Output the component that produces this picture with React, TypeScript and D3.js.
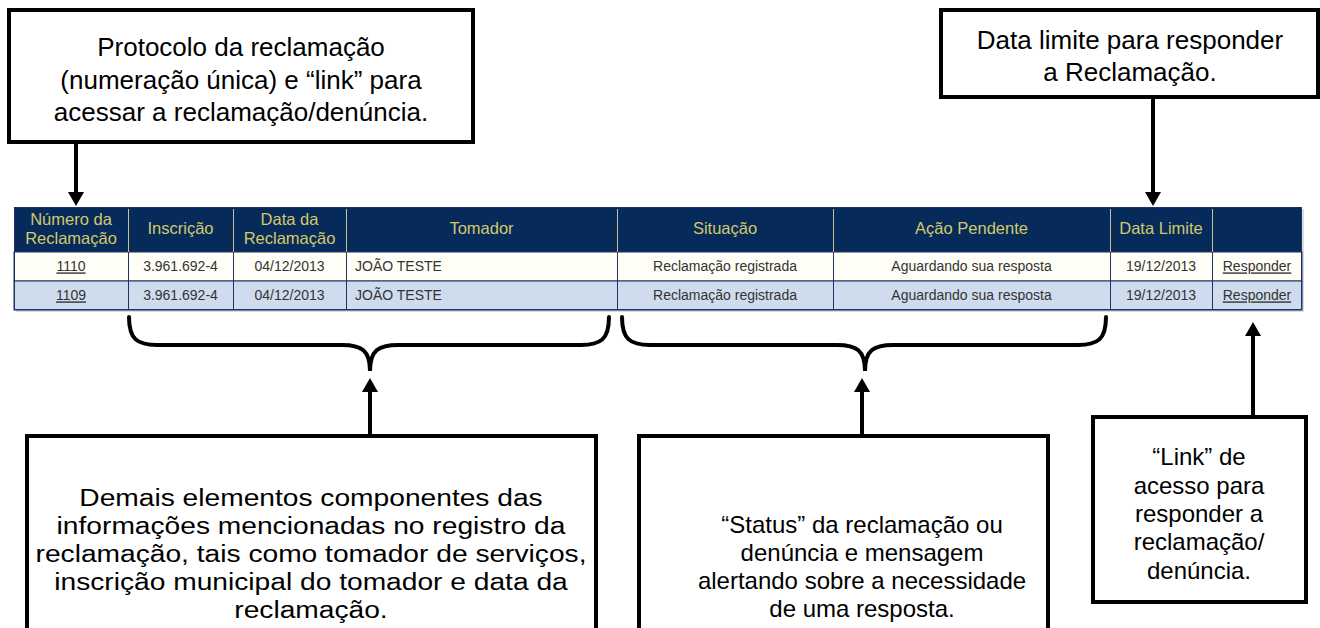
import { useMemo } from "react";
import * as d3 from "d3";

// table content
const headers = [["Número da", "Reclamação"], ["Inscrição"], ["Data da", "Reclamação"], ["Tomador"], ["Situação"], ["Ação Pendente"], ["Data Limite"], [""]];
const numeros = ["1110", "1109"];
const inscricoes = ["3.961.692-4", "3.961.692-4"];
const datas = ["04/12/2013", "04/12/2013"];
const tomadores = ["JOÃO TESTE", "JOÃO TESTE"];
const situacoes = ["Reclamação registrada", "Reclamação registrada"];
const acoes = ["Aguardando sua resposta", "Aguardando sua resposta"];
const limites = ["19/12/2013", "19/12/2013"];
const links = ["Responder", "Responder"];

// callout texts
const protocoloText = ["Protocolo da reclamação", "(numeração única) e “link” para", "acessar a reclamação/denúncia."];
const limiteText = ["Data limite para responder", "a Reclamação."];
const demaisText = ["Demais elementos componentes das", "informações mencionadas no registro da", "reclamação, tais como tomador de serviços,", "inscrição municipal do tomador e data da", "reclamação."];
const statusText = ["“Status” da reclamação ou", "denúncia e mensagem", "alertando sobre a necessidade", "de uma resposta."];
const linkText = ["“Link” de", "acesso para", "responder a", "reclamação/", "denúncia."];

const W = 1320;
const H = 628;
const FONT = "'Liberation Sans', Arial, Helvetica, sans-serif";

// layout
const colWidths = [114, 105, 113, 271, 216, 277, 102, 90];
const tableLeft = 14;
const tableTop = 207;
const headerBottom = 252;
const tableBottom = 310;

function Arrow({ x, y1, y2 }: { x: number; y1: number; y2: number }) {
  // y1 = tail, y2 = tip
  const dir = y2 > y1 ? 1 : -1;
  const head = 14;
  const half = 8;
  return (
    <g>
      <line x1={x} x2={x} y1={y1} y2={y2 - dir * head} stroke="#000" strokeWidth={4} />
      <polygon points={`${x - half},${y2 - dir * head} ${x + half},${y2 - dir * head} ${x},${y2}`} fill="#000" />
    </g>
  );
}

function Brace({ x0, x1, xc, y0, ym, yc }: { x0: number; x1: number; xc: number; y0: number; ym: number; yc: number }) {
  const r = 28;
  const p = d3.path();
  p.moveTo(x0, y0);
  p.bezierCurveTo(x0, ym - r * 0.2, x0 + r * 0.3, ym, x0 + r, ym);
  p.lineTo(xc - r, ym);
  p.bezierCurveTo(xc - r * 0.3, ym, xc, ym + r * 0.2, xc, yc);
  p.bezierCurveTo(xc, ym + r * 0.2, xc + r * 0.3, ym, xc + r, ym);
  p.lineTo(x1 - r, ym);
  p.bezierCurveTo(x1 - r * 0.3, ym, x1, ym - r * 0.2, x1, y0);
  return <path d={p.toString()} fill="none" stroke="#000" strokeWidth={4} strokeLinecap="round" />;
}

function Callout({ x, y, w, h, lines, cx, firstY, step, size, open, stretch = 1 }: any) {
  return (
    <g>
      {open ? (
        <path d={`M${x},${y + h} L${x},${y} L${x + w},${y} L${x + w},${y + h}`} fill="#fff" stroke="#000" strokeWidth={4} />
      ) : (
        <rect x={x} y={y} width={w} height={h} fill="#fff" stroke="#000" strokeWidth={4} />
      )}
      <g transform={`translate(${cx},0) scale(${stretch},1)`}>
        {lines.map((t: string, i: number) => (
          <text key={i} x={0} y={firstY + i * step} dy="0.35em" textAnchor="middle" fontSize={size} fill="#000">
            {t}
          </text>
        ))}
      </g>
    </g>
  );
}

export default function App() {
  const edges = useMemo(() => [tableLeft, ...d3.cumsum(colWidths).map((v) => tableLeft + v)], []);
  const x = (i: number) => edges[i];
  const tableRight = edges[edges.length - 1];

  const rowScale = d3.scaleBand<number>().domain(d3.range(numeros.length)).range([headerBottom, tableBottom]);

  const rows = numeros.map((n, i) => [n, inscricoes[i], datas[i], tomadores[i], situacoes[i], acoes[i], limites[i], links[i]]);

  return (
    <svg width={W} height={H} style={{ position: "absolute", left: 0, top: 0, fontFamily: FONT }}>
      <rect width={W} height={H} fill="#fff" />

      {/* table */}
      <rect x={tableLeft + 2} y={tableTop + 2} width={tableRight - tableLeft} height={tableBottom - tableTop} fill="#d8dde4" />
      <rect x={tableLeft} y={tableTop} width={tableRight - tableLeft} height={headerBottom - tableTop} fill="#062b5b" />
      {rows.map((row, i) => (
        <rect key={i} x={tableLeft} y={rowScale(i)} width={tableRight - tableLeft} height={rowScale.bandwidth()} fill={i % 2 === 0 ? "#fffef6" : "#cfdcee"} stroke="#1b3560" strokeWidth={1} />
      ))}
      {edges.slice(1, -1).map((e, i) => (
        <g key={i}>
          <line x1={e + 0.5} x2={e + 0.5} y1={tableTop + 2} y2={headerBottom} stroke="#c9c08f" strokeWidth={1} />
          <line x1={e + 0.5} x2={e + 0.5} y1={headerBottom} y2={tableBottom} stroke="#1b3560" strokeWidth={1} />
        </g>
      ))}
      <rect x={tableLeft + 0.5} y={tableTop + 0.5} width={tableRight - tableLeft - 1} height={tableBottom - tableTop - 1} fill="none" stroke="#1b3560" strokeWidth={1} />
      {headers.map((h, i) => {
        const cx = (x(i) + x(i + 1)) / 2;
        const mid = (tableTop + headerBottom) / 2 - 1;
        return h.map((t, j) => (
          <text key={`${i}-${j}`} x={cx} y={mid + (j - (h.length - 1) / 2) * 19} dy="0.35em" textAnchor="middle" fontSize={16.5} fill="#d4c86a">
            {t}
          </text>
        ));
      })}
      {rows.map((row, i) =>
        row.map((t, j) => {
          const left = j === 3;
          const underline = j === 0 || j === 7;
          return (
            <text
              key={`${i}-${j}`}
              x={left ? x(j) + 9 : (x(j) + x(j + 1)) / 2}
              y={(rowScale(i) as number) + rowScale.bandwidth() / 2}
              dy="0.35em"
              textAnchor={left ? "start" : "middle"}
              fontSize={14}
              fill="#333"
              textDecoration={underline ? "underline" : undefined}
            >
              {t}
            </text>
          );
        })
      )}

      {/* top callouts */}
      <Callout x={9} y={10} w={464} h={132} lines={protocoloText} cx={241} firstY={47} step={32.5} size={26} />
      <Arrow x={76} y1={142} y2={206} />
      <Callout x={941} y={10} w={377} h={87} lines={limiteText} cx={1130} firstY={40} step={32} size={26} />
      <Arrow x={1153} y1={97} y2={206} />

      {/* braces */}
      <Brace x0={129} x1={609} xc={370} y0={317} ym={345} yc={371} />
      <Brace x0={622} x1={1106} xc={865} y0={317} ym={345} yc={371} />

      {/* bottom callouts */}
      <Callout x={27} y={436} w={569} h={210} lines={demaisText} cx={311} firstY={497} step={28} size={24.5} stretch={1.15} open />
      <Arrow x={370} y1={436} y2={378} />
      <Callout x={639} y={436} w={409} h={210} lines={statusText} cx={862} firstY={525} step={28} size={24} open />
      <Arrow x={862} y1={436} y2={378} />
      <Callout x={1093} y={417} w={213} h={185} lines={linkText} cx={1199} firstY={457} step={28.3} size={24} />
      <Arrow x={1253} y1={417} y2={322} />
    </svg>
  );
}
